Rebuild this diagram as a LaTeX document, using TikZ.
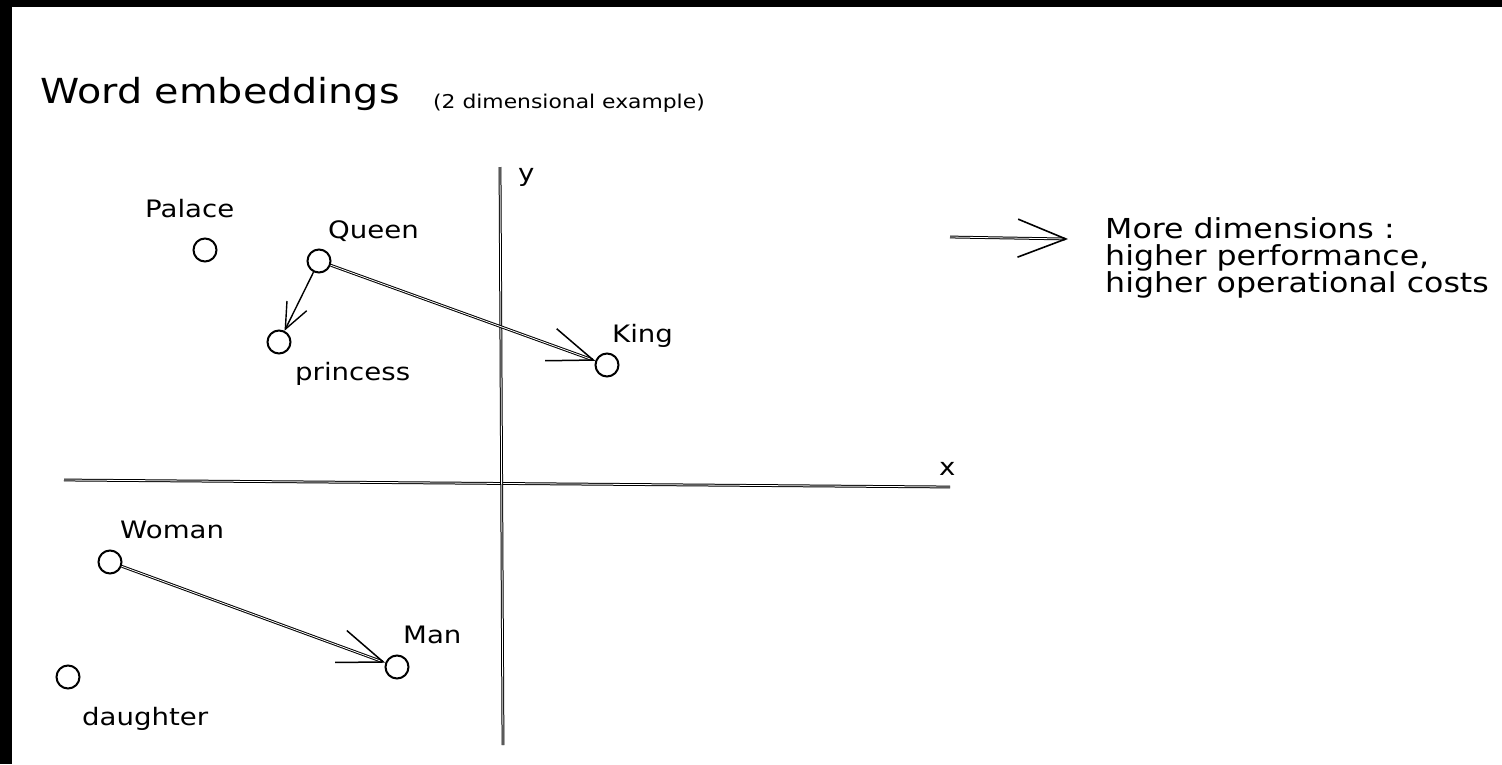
\documentclass[tikz,border=0pt]{standalone}
\usepackage{fontspec}
\setmainfont{DejaVu Sans}
\usepackage{graphicx}
\usetikzlibrary{arrows.meta}
\newcommand{\wide}[1]{\scalebox{1.15}[1]{#1}}
\begin{document}
\begin{tikzpicture}[x=1pt,y=-1pt,
  dot/.style={circle,draw,line width=2pt,minimum size=23pt,inner sep=0pt},
  lbl/.style={anchor=base west,font=\fontsize{24}{28}\selectfont,inner sep=0pt},
  side/.style={anchor=base west,font=\fontsize{27.5}{28}\selectfont,inner sep=0pt},
  axisline/.style={draw,line width=1pt,double distance=0.8pt},
  vec/.style={line width=1pt,double distance=0.8pt,-{Straight Barb[length=45pt,width=34pt,line width=1.5pt]}},
  vecsmall/.style={line width=1.4pt,-{Straight Barb[length=26pt,width=22pt,line width=1.4pt]}},
  bigvec/.style={line width=1pt,double distance=0.8pt,-{Straight Barb[length=48pt,width=38pt,line width=1.6pt]}},
]
\useasboundingbox (0,0) rectangle (1502,764);
\fill[white] (0,0) rectangle (1502,764);
\fill[black] (0,0) rectangle (1502,7);
\fill[black] (0,0) rectangle (12,764);

% titles
\node[anchor=base west,inner sep=0pt,font=\fontsize{34.5}{40}\selectfont] (title) at (40,103) {\wide{Word embeddings}};
\node[anchor=base west,inner sep=0pt,font=\fontsize{19}{22}\selectfont] (subtitle) at (433,108) {\wide{(2 dimensional example)}};

% axes
\coordinate (xa) at (64,480);
\coordinate (xb) at (950,487);
\coordinate (ya) at (500,167);
\coordinate (yb) at (503,745);
\draw[axisline] (xa) -- (xb);
\draw[axisline] (ya) -- (yb);
\node[lbl] (xl) at (939,475) {\wide{x}};
\node[lbl] (yl) at (518,181) {\wide{y}};

% points
\node[dot] (palace) at (205,250) {};
\node[dot] (queen) at (319,261) {};
\node[dot] (princess) at (279,342) {};
\node[dot] (king) at (607,365) {};
\node[dot] (woman) at (110,562) {};
\node[dot] (man) at (397,667) {};
\node[dot] (daughter) at (68,677) {};

% labels
\node[lbl] (tpalace) at (145,217) {\wide{Palace}};
\node[lbl] (tqueen) at (328,238) {\wide{Queen}};
\node[lbl] (tprincess) at (295,380) {\wide{princess}};
\node[lbl] (tking) at (612,342) {\wide{King}};
\node[lbl] (twoman) at (120,538) {\wide{Woman}};
\node[lbl] (tman) at (403,643) {\wide{Man}};
\node[lbl] (tdaughter) at (82,725) {\wide{daughter}};

% vectors
\draw[vec] (queen) -- (king);
\draw[vecsmall] (queen) -- (princess);
\draw[vec] (woman) -- (man);

% right side
\coordinate (ra) at (950,237);
\coordinate (rb) at (1068,239);
\draw[bigvec] (ra) -- (rb);
\node[side] (r1) at (1105,238) {\wide{More dimensions :}};
\node[side] (r2) at (1105,265) {\wide{higher performance,}};
\node[side] (r3) at (1105,292) {\wide{higher operational costs}};
\end{tikzpicture}
\end{document}
